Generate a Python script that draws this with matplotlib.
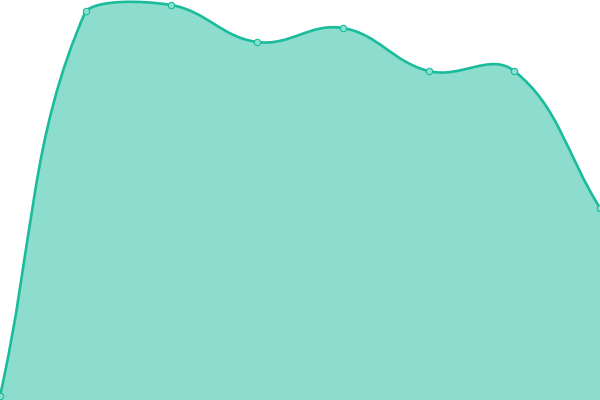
"""Smooth filled area line, eight points, no axes (Chart.js-like tension curve)."""
import matplotlib
matplotlib.use("Agg")
import matplotlib.pyplot as plt
import numpy as np
from matplotlib.path import Path
from matplotlib.patches import PathPatch

LINE = "#1abc9c"

labels = ["1", "2", "3", "4", "5", "6", "7", "8"]
values = [4, 389, 395, 358, 372, 329, 329, 192]
y_max = 400
tension = 0.4


def control_points(xs, ys, t):
    # spline control points, computed in pixel space like Chart.js splineCurve
    n = len(xs)
    cps = []
    for i in range(n):
        p = np.array([xs[i], ys[i]])
        a = np.array([xs[max(i - 1, 0)], ys[max(i - 1, 0)]])
        b = np.array([xs[min(i + 1, n - 1)], ys[min(i + 1, n - 1)]])
        d01 = np.hypot(*(p - a))
        d12 = np.hypot(*(b - p))
        s01 = d01 / (d01 + d12) if d01 + d12 else 0
        s12 = d12 / (d01 + d12) if d01 + d12 else 0
        prev_cp = p - t * s01 * (b - a)
        next_cp = p + t * s12 * (b - a)
        cps.append((prev_cp, next_cp))
    return cps


fig = plt.figure(figsize=(6, 4), dpi=100)
ax = fig.add_axes([0, 0, 1, 1])
n = len(values)
x = np.arange(n)
ax.set_xlim(0, n - 1)
ax.set_ylim(0, y_max)
ax.axis("off")

# work in pixel units, then map back
sx = 600 / (n - 1)
px = x * sx
py = np.array(values, dtype=float)
cps = control_points(px, py, tension)
cps = [(np.clip(a, [0, 0], [600, y_max]), np.clip(b, [0, 0], [600, y_max])) for a, b in cps]

verts = [(px[0], py[0])]
codes = [Path.MOVETO]
for i in range(n - 1):
    c1 = cps[i][1]
    c2 = cps[i + 1][0]
    verts += [tuple(c1), tuple(c2), (px[i + 1], py[i + 1])]
    codes += [Path.CURVE4] * 3
verts = [(vx / sx, vy) for vx, vy in verts]

fill_verts = verts + [(n - 1, 0), (0, 0), verts[0]]
fill_codes = codes + [Path.LINETO, Path.LINETO, Path.CLOSEPOLY]
ax.add_patch(PathPatch(Path(fill_verts, fill_codes), facecolor=LINE, alpha=0.5, lw=0))
ax.add_patch(PathPatch(Path(verts, codes), facecolor="none", edgecolor=LINE, lw=1.9,
                       capstyle="round", joinstyle="round"))
ax.plot(x, values, "o", ms=4.6, mfc="#8adfcf", mec=LINE, mew=0.8, clip_on=True)

fig.savefig("out.png", dpi=100)
